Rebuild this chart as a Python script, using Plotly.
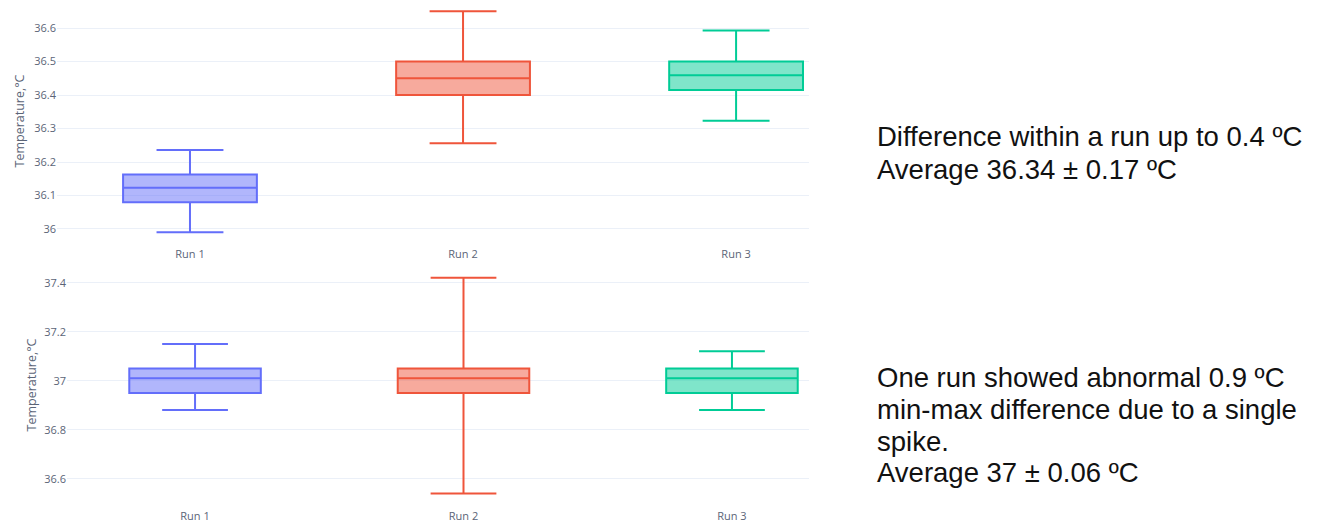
import plotly.graph_objects as go
from plotly.subplots import make_subplots

runs = ["Run 1", "Run 2", "Run 3"]
colors = ["#636EFA", "#EF553B", "#00CC96"]

# First measurement series (temperature, °C)
top_lower = [35.99, 36.256, 36.323]
top_q1 = [36.08, 36.40, 36.415]
top_median = [36.123, 36.45, 36.459]
top_q3 = [36.163, 36.50, 36.50]
top_upper = [36.236, 36.65, 36.593]

# Second measurement series (temperature, °C)
bot_lower = [36.88, 36.54, 36.88]
bot_q1 = [36.95, 36.95, 36.95]
bot_median = [37.01, 37.01, 37.01]
bot_q3 = [37.05, 37.05, 37.05]
bot_upper = [37.15, 37.42, 37.12]

notes_top = [
    "Difference within a run up to 0.4 ºC",
    "Average 36.34 ± 0.17 ºC",
]
notes_bottom = [
    "One run showed abnormal 0.9 ºC",
    "min-max difference due to a single",
    "spike.",
    "Average 37 ± 0.06 ºC",
]

W, H = 1327, 522

fig = make_subplots(rows=2, cols=1)

for i, run in enumerate(runs):
    fig.add_trace(go.Box(
        x=[run], q1=[top_q1[i]], median=[top_median[i]], q3=[top_q3[i]],
        lowerfence=[top_lower[i]], upperfence=[top_upper[i]],
        name=run, marker_color=colors[i], line_width=2, width=0.49,
        showlegend=False,
    ), row=1, col=1)
    fig.add_trace(go.Box(
        x=[run], q1=[bot_q1[i]], median=[bot_median[i]], q3=[bot_q3[i]],
        lowerfence=[bot_lower[i]], upperfence=[bot_upper[i]],
        name=run, marker_color=colors[i], line_width=2, width=0.49,
        showlegend=False,
    ), row=2, col=1)

tick_font = dict(family="Open Sans, sans-serif", size=11, color="#5b6577")
title_font = dict(family="Open Sans, sans-serif", size=12.5, color="#5b6577")
grid = "#EBF0F8"
xcommon = dict(showgrid=False, tickfont=tick_font, ticks="outside",
               ticklen=6, tickcolor="rgba(0,0,0,0)")

fig.update_layout(
    width=W, height=H,
    template="plotly_white",
    margin=dict(l=0, r=0, t=0, b=0),
    plot_bgcolor="white", paper_bgcolor="white",
    showlegend=False,
    xaxis=dict(domain=[57 / W, 809 / W], range=[-0.487, 2.267],
               anchor="y", **xcommon),
    yaxis=dict(domain=[1 - 238 / H, 1 - 4 / H], range=[35.973, 36.672],
               dtick=0.1, gridcolor=grid, zeroline=False, tickfont=tick_font,
               title=dict(text="Temperature,°C", font=title_font, standoff=6)),
    xaxis2=dict(domain=[67 / W, 809 / W], range=[-0.477, 2.287],
                anchor="y2", **xcommon),
    yaxis2=dict(domain=[1 - 500 / H, 1 - 270 / H], range=[36.513, 37.452],
                dtick=0.2, gridcolor=grid, zeroline=False, tickfont=tick_font,
                title=dict(text="Temperature,°C", font=title_font, standoff=4)),
)

note_font = dict(family="Liberation Sans, Arial, sans-serif", size=27.5, color="#111111")
for text, yc in zip(notes_top, [136, 169]):
    fig.add_annotation(text=text, xref="paper", yref="paper", x=875 / W, y=1 - yc / H,
                       xanchor="left", yanchor="middle", showarrow=False, font=note_font)
for text, yc in zip(notes_bottom, [377, 409, 441, 472]):
    fig.add_annotation(text=text, xref="paper", yref="paper", x=875 / W, y=1 - yc / H,
                       xanchor="left", yanchor="middle", showarrow=False, font=note_font)

fig.write_html("out.html")
